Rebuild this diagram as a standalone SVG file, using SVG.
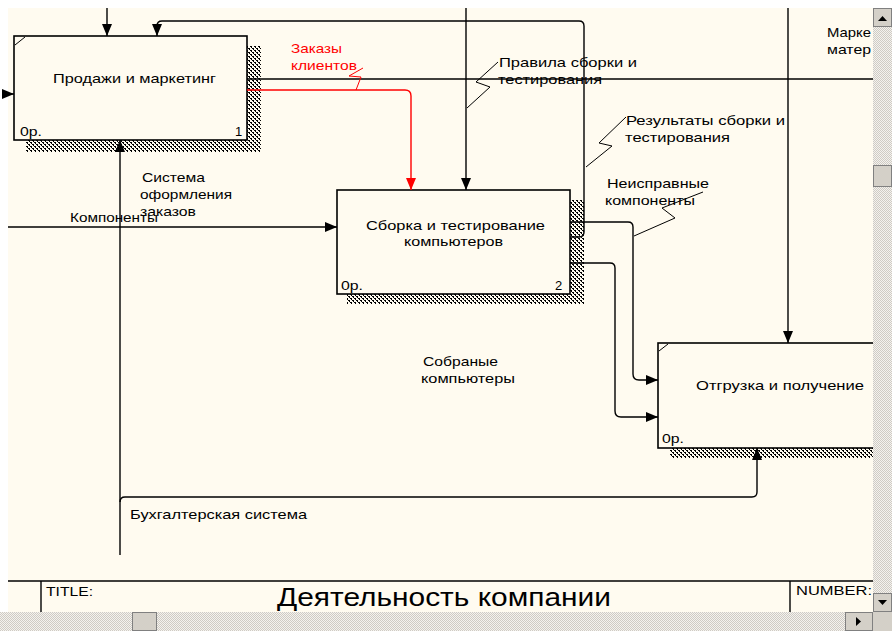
<svg xmlns="http://www.w3.org/2000/svg" width="892" height="631" viewBox="0 0 892 631">
<style>
.bg{fill:#FFFBF0}
.box{fill:#FFFBF0;stroke:#000;stroke-width:1.6}
.sh{fill:url(#hatch)}
.ln{fill:none;stroke:#000;stroke-width:1.4}
.red{fill:none;stroke:#FF0000;stroke-width:1.4}
.sq{fill:none;stroke:#000;stroke-width:1}
.sqr{fill:none;stroke:#FF0000;stroke-width:1}
text{font-family:"Liberation Sans",Arial,sans-serif;font-size:13px;fill:#000}
.rt{fill:#FF0000}
.title{font-size:25px}
.trk{fill:url(#dith)}
.btn{fill:#D4D0C8;stroke:#808080;stroke-width:1}
</style>
<defs>
<pattern id="hatch" width="4" height="4" patternUnits="userSpaceOnUse">
<rect width="4" height="4" fill="#FFFBF0"/>
<rect x="0" y="0" width="2" height="1" fill="#000"/>
<rect x="1" y="1" width="1" height="1" fill="#000"/>
<rect x="2" y="2" width="2" height="1" fill="#000"/>
<rect x="3" y="3" width="1" height="1" fill="#000"/>
</pattern>
<pattern id="dith" width="2" height="2" patternUnits="userSpaceOnUse">
<rect width="2" height="2" fill="#F4F2EE"/>
<rect width="1" height="1" fill="#CFCBC4"/>
<rect x="1" y="1" width="1" height="1" fill="#CFCBC4"/>
</pattern>
<marker id="ah" viewBox="0 0 12 10" refX="12" refY="5" markerWidth="12" markerHeight="10" markerUnits="userSpaceOnUse" orient="auto">
<path d="M0,0 L12,5 L0,10 z" fill="#000"/>
</marker>
<marker id="ahr" viewBox="0 0 12 10" refX="12" refY="5" markerWidth="12" markerHeight="10" markerUnits="userSpaceOnUse" orient="auto">
<path d="M0,0 L12,5 L0,10 z" fill="#FF0000"/>
</marker>
</defs>
<rect width="892" height="631" fill="#FFFFFF"/>
<rect class="bg" x="8" y="8" width="865" height="604"/>

<g id="box1">
<rect class="sh" x="247" y="46" width="14" height="106"/>
<rect class="sh" x="26" y="140" width="235" height="12"/>
<rect class="box" x="14" y="36" width="233" height="104"/>
<line class="sq" x1="15" y1="45" x2="25" y2="37"/>
<text x="53" y="83" textLength="163" lengthAdjust="spacingAndGlyphs">Продажи и маркетинг</text>
<text x="20" y="136" textLength="22" lengthAdjust="spacingAndGlyphs">0р.</text>
<text x="235" y="136">1</text>
</g>

<g id="box2">
<rect class="sh" x="570" y="200" width="14" height="104"/>
<rect class="sh" x="347" y="294" width="237" height="10"/>
<rect class="box" x="337" y="190" width="233" height="104"/>
<text x="366" y="230" textLength="179" lengthAdjust="spacingAndGlyphs">Сборка и тестирование</text>
<text x="404" y="246" textLength="99" lengthAdjust="spacingAndGlyphs">компьютеров</text>
<text x="341" y="290" textLength="22" lengthAdjust="spacingAndGlyphs">0р.</text>
<text x="555" y="290">2</text>
</g>

<g id="box3">
<rect class="sh" x="670" y="448" width="203" height="10"/>
<rect class="box" x="658" y="343" width="240" height="105"/>
<line class="sq" x1="659" y1="351" x2="668" y2="344"/>
<text x="696" y="390" textLength="168" lengthAdjust="spacingAndGlyphs">Отгрузка и получение</text>
<text x="662" y="443" textLength="22" lengthAdjust="spacingAndGlyphs">0р.</text>
</g>

<g id="connectors">
<path class="ln" d="M107,8 V36" marker-end="url(#ah)"/>
<path class="ln" d="M570,237 H579 Q584,237 584,232 V26 Q584,21 579,21 H162 Q157,21 157,26 V36" marker-end="url(#ah)"/>
<path class="ln" d="M247,79 H873"/>
<path class="red" d="M247,90 H405 Q411,90 411,96 V190" marker-end="url(#ahr)"/>
<path class="ln" d="M6,94 H14" marker-end="url(#ah)"/>
<path class="ln" d="M120,555 V140" marker-end="url(#ah)"/>
<path class="ln" d="M8,227 H337" marker-end="url(#ah)"/>
<path class="ln" d="M466,8 V190" marker-end="url(#ah)"/>
<path class="ln" d="M570,222 H628 Q633,222 633,227 V374 Q633,380 639,380 H658" marker-end="url(#ah)"/>
<path class="ln" d="M570,263 H610 Q615,263 615,268 V411 Q615,417 621,417 H658" marker-end="url(#ah)"/>
<path class="ln" d="M788,8 V343" marker-end="url(#ah)"/>
<path class="ln" d="M120,502 Q120,497 125,497 H752 Q757,497 757,492 V448" marker-end="url(#ah)"/>
<polyline class="sqr" points="356,90 361,77 349,76 363,68"/>
<polyline class="sq" points="467,108 490,87 476,82 498,62"/>
<polyline class="sq" points="586,167 612,146 599,143 626,117"/>
<polyline class="sq" points="634,236 675,218 662,208 703,192"/>
</g>

<g id="labels">
<text class="rt" x="291" y="53" textLength="51" lengthAdjust="spacingAndGlyphs">Заказы</text>
<text class="rt" x="291" y="70" textLength="66" lengthAdjust="spacingAndGlyphs">клиентов</text>
<text x="142" y="182" textLength="63" lengthAdjust="spacingAndGlyphs">Система</text>
<text x="140" y="199" textLength="92" lengthAdjust="spacingAndGlyphs">оформления</text>
<text x="140" y="216" textLength="56" lengthAdjust="spacingAndGlyphs">заказов</text>
<text x="70" y="222" textLength="88" lengthAdjust="spacingAndGlyphs">Компоненты</text>
<text x="499" y="67" textLength="138" lengthAdjust="spacingAndGlyphs">Правила сборки и</text>
<text x="498" y="84" textLength="104" lengthAdjust="spacingAndGlyphs">тестирования</text>
<text x="626" y="125" textLength="159" lengthAdjust="spacingAndGlyphs">Результаты сборки и</text>
<text x="625" y="142" textLength="105" lengthAdjust="spacingAndGlyphs">тестирования</text>
<text x="607" y="188" textLength="102" lengthAdjust="spacingAndGlyphs">Неисправные</text>
<text x="605" y="205" textLength="90" lengthAdjust="spacingAndGlyphs">компоненты</text>
<text x="827" y="37" textLength="44" lengthAdjust="spacingAndGlyphs">Марке</text>
<text x="827" y="54" textLength="44" lengthAdjust="spacingAndGlyphs">матер</text>
<text x="423" y="366" textLength="75" lengthAdjust="spacingAndGlyphs">Собраные</text>
<text x="421" y="383" textLength="94" lengthAdjust="spacingAndGlyphs">компьютеры</text>
<text x="130" y="519" textLength="177" lengthAdjust="spacingAndGlyphs">Бухгалтерская система</text>
</g>

<g id="frame">
<line class="ln" x1="8" y1="581" x2="873" y2="581" stroke-width="1.8"/>
<line class="ln" x1="41" y1="581" x2="41" y2="612" stroke-width="1.6"/>
<line class="ln" x1="790" y1="581" x2="790" y2="612" stroke-width="1.6"/>
<text x="46" y="596" textLength="47" lengthAdjust="spacingAndGlyphs">TITLE:</text>
<text class="title" x="277" y="606" textLength="334" lengthAdjust="spacingAndGlyphs">Деятельность компании</text>
<text x="796" y="595" textLength="76" lengthAdjust="spacingAndGlyphs">NUMBER:</text>
</g>

<g id="scrollbars">
<rect class="trk" x="873" y="8" width="19" height="604"/>
<rect class="trk" x="0" y="612" width="873" height="19"/>
<rect class="btn" x="873.5" y="8.5" width="18" height="18"/>
<path d="M878,21 L882.5,16 L887,21 z" fill="#000"/>
<rect class="btn" x="873.5" y="165.5" width="18" height="21"/>
<rect class="btn" x="873.5" y="593.5" width="18" height="18"/>
<path d="M878,600 L882.5,605 L887,600 z" fill="#000"/>
<rect class="btn" x="132.5" y="612.5" width="24" height="18"/>
<rect class="btn" x="845.5" y="612.5" width="27" height="18"/>
<path d="M856,617 L861,621.5 L856,626 z" fill="#000"/>
<rect x="873" y="612" width="19" height="19" fill="#D4D0C8"/>
</g>
</svg>
